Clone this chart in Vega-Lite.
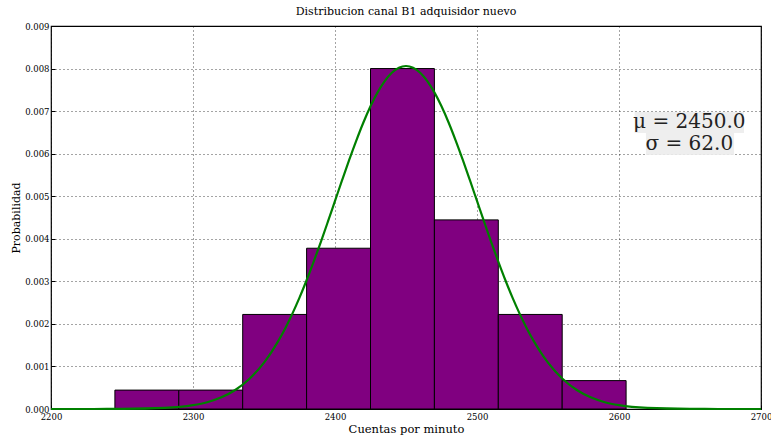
{
  "$schema": "https://vega.github.io/schema/vega-lite/v6.json",
  "width": 710,
  "height": 383,
  "autosize": {"type": "none"},
  "padding": {"left": 51, "top": 26, "right": 10, "bottom": 32},
  "background": "white",
  "title": {
    "text": "Distribucion canal B1 adquisidor nuevo",
    "font": "DejaVu Serif",
    "fontSize": 11,
    "fontWeight": "normal",
    "color": "black",
    "anchor": "middle",
    "offset": 5
  },
  "config": {
    "view": {"stroke": "black", "strokeWidth": 1.2},
    "axis": {
      "labelFont": "DejaVu Serif",
      "labelFontSize": 8.5,
      "labelColor": "black",
      "titleFont": "DejaVu Serif",
      "titleColor": "black",
      "titleFontWeight": "normal",
      "domain": false,
      "grid": true,
      "gridColor": "black",
      "gridDash": [1, 3],
      "gridOpacity": 0.9,
      "gridWidth": 0.8,
      "tickColor": "black",
      "tickSize": -4,
      "zindex": 1
    }
  },
  "datasets": {
    "bars": [
      {"x0": 2245, "x1": 2290, "p": 0.000444},
      {"x0": 2290, "x1": 2335, "p": 0.000444},
      {"x0": 2335, "x1": 2380, "p": 0.002222},
      {"x0": 2380, "x1": 2425, "p": 0.003778},
      {"x0": 2425, "x1": 2470, "p": 0.008},
      {"x0": 2470, "x1": 2515, "p": 0.004444},
      {"x0": 2515, "x1": 2560, "p": 0.002222},
      {"x0": 2560, "x1": 2605, "p": 0.000667}
    ],
    "curve": [
      {"x": 2200, "p": 0},
      {"x": 2230, "p": 0.0000005},
      {"x": 2250, "p": 0.0000027},
      {"x": 2280, "p": 0.0000249},
      {"x": 2300, "p": 0.0000896},
      {"x": 2310, "p": 0.000160},
      {"x": 2320, "p": 0.000274},
      {"x": 2330, "p": 0.000452},
      {"x": 2340, "p": 0.000717},
      {"x": 2350, "p": 0.001091},
      {"x": 2355, "p": 0.001326},
      {"x": 2360, "p": 0.001595},
      {"x": 2365, "p": 0.001900},
      {"x": 2370, "p": 0.002241},
      {"x": 2375, "p": 0.002617},
      {"x": 2380, "p": 0.003025},
      {"x": 2385, "p": 0.003463},
      {"x": 2390, "p": 0.003923},
      {"x": 2395, "p": 0.004402},
      {"x": 2400, "p": 0.004889},
      {"x": 2405, "p": 0.005376},
      {"x": 2410, "p": 0.005853},
      {"x": 2415, "p": 0.006308},
      {"x": 2420, "p": 0.006733},
      {"x": 2425, "p": 0.007113},
      {"x": 2430, "p": 0.007440},
      {"x": 2435, "p": 0.007705},
      {"x": 2440, "p": 0.007900},
      {"x": 2445, "p": 0.008020},
      {"x": 2450, "p": 0.008060},
      {"x": 2455, "p": 0.008020},
      {"x": 2460, "p": 0.007900},
      {"x": 2465, "p": 0.007705},
      {"x": 2470, "p": 0.007440},
      {"x": 2475, "p": 0.007113},
      {"x": 2480, "p": 0.006733},
      {"x": 2485, "p": 0.006308},
      {"x": 2490, "p": 0.005853},
      {"x": 2495, "p": 0.005376},
      {"x": 2500, "p": 0.004889},
      {"x": 2505, "p": 0.004402},
      {"x": 2510, "p": 0.003923},
      {"x": 2515, "p": 0.003463},
      {"x": 2520, "p": 0.003025},
      {"x": 2525, "p": 0.002617},
      {"x": 2530, "p": 0.002241},
      {"x": 2535, "p": 0.001900},
      {"x": 2540, "p": 0.001595},
      {"x": 2545, "p": 0.001326},
      {"x": 2550, "p": 0.001091},
      {"x": 2560, "p": 0.000717},
      {"x": 2570, "p": 0.000452},
      {"x": 2580, "p": 0.000274},
      {"x": 2590, "p": 0.000160},
      {"x": 2600, "p": 0.0000896},
      {"x": 2620, "p": 0.0000249},
      {"x": 2650, "p": 0.0000027},
      {"x": 2670, "p": 0.0000005},
      {"x": 2700, "p": 0}
    ],
    "boxes": [
      {"x0": 2611, "x1": 2688, "y0": 0.006485, "y1": 0.00698},
      {"x0": 2619, "x1": 2681, "y0": 0.005968, "y1": 0.006485}
    ],
    "labels": [
      {"x": 2649.5, "y": 0.006735, "t": "μ = 2450.0"},
      {"x": 2649.5, "y": 0.006225, "t": "σ = 62.0"}
    ]
  },
  "layer": [
    {
      "data": {"name": "bars"},
      "mark": {"type": "rect", "fill": "#800080", "stroke": "black", "strokeWidth": 1},
      "encoding": {
        "x": {
          "field": "x0",
          "type": "quantitative",
          "scale": {"domain": [2200, 2700], "nice": false, "zero": false},
          "axis": {
            "values": [2200, 2300, 2400, 2500, 2600, 2700],
            "format": "d",
            "title": "Cuentas por minuto",
            "titleFontSize": 11.5,
            "titlePadding": 3,
            "labelPadding": 7,
            "labelFlush": false
          }
        },
        "x2": {"field": "x1"},
        "y": {
          "field": "p",
          "type": "quantitative",
          "scale": {"domain": [0, 0.009], "nice": false},
          "axis": {
            "values": [0, 0.001, 0.002, 0.003, 0.004, 0.005, 0.006, 0.007, 0.008, 0.009],
            "format": ".3f",
            "title": "Probabilidad",
            "titleFontSize": 11,
            "titlePadding": 3,
            "labelPadding": 6
          }
        },
        "y2": {"datum": 0}
      }
    },
    {
      "data": {"name": "curve"},
      "mark": {"type": "line", "color": "#008000", "strokeWidth": 2.2, "interpolate": "monotone"},
      "encoding": {
        "x": {"field": "x", "type": "quantitative"},
        "y": {"field": "p", "type": "quantitative"}
      }
    },
    {
      "data": {"name": "boxes"},
      "mark": {"type": "rect", "fill": "#ececec", "opacity": 0.9},
      "encoding": {
        "x": {"field": "x0", "type": "quantitative"},
        "x2": {"field": "x1"},
        "y": {"field": "y0", "type": "quantitative"},
        "y2": {"field": "y1"}
      }
    },
    {
      "data": {"name": "labels"},
      "mark": {"type": "text", "font": "DejaVu Serif", "fontSize": 20, "color": "#222", "align": "center", "baseline": "middle"},
      "encoding": {
        "x": {"field": "x", "type": "quantitative"},
        "y": {"field": "y", "type": "quantitative"},
        "text": {"field": "t"}
      }
    }
  ]
}
